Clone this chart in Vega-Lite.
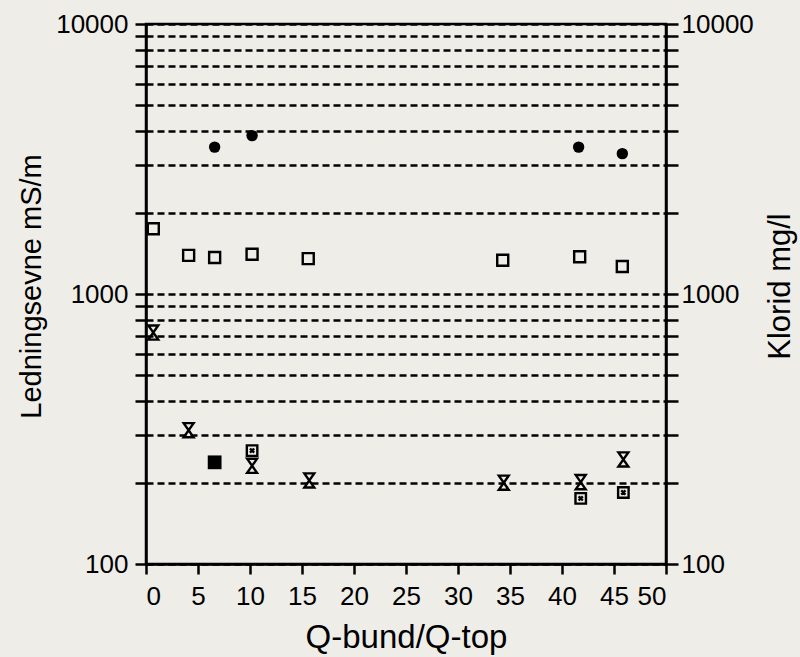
{
  "$schema": "https://vega.github.io/schema/vega-lite/v6.json",
  "width": 520,
  "height": 540,
  "autosize": {"type": "none"},
  "padding": {"left": 146, "top": 24, "right": 134, "bottom": 93},
  "background": "#eeede8",
  "config": {
    "view": {"stroke": "black", "strokeWidth": 2.5},
    "font": "Liberation Sans",
    "axis": {
      "domainColor": "black",
      "domainWidth": 2.5,
      "tickColor": "black",
      "tickWidth": 2.5,
      "labelColor": "black",
      "titleColor": "black",
      "labelFont": "Liberation Sans",
      "titleFont": "Liberation Sans",
      "titleFontWeight": "normal",
      "labelFontSize": 26
    }
  },
  "data": {
    "values": [
      {"x": 6.6, "v": 3500, "serie": "kreds"},
      {"x": 10.2, "v": 3860, "serie": "kreds"},
      {"x": 41.6, "v": 3500, "serie": "kreds"},
      {"x": 45.8, "v": 3310, "serie": "kreds"},
      {"x": 0.7, "v": 1745, "serie": "kvadrat"},
      {"x": 4.1, "v": 1390, "serie": "kvadrat"},
      {"x": 6.6, "v": 1365, "serie": "kvadrat"},
      {"x": 10.2, "v": 1403, "serie": "kvadrat"},
      {"x": 15.6, "v": 1352, "serie": "kvadrat"},
      {"x": 34.3, "v": 1334, "serie": "kvadrat"},
      {"x": 41.7, "v": 1374, "serie": "kvadrat"},
      {"x": 45.8, "v": 1265, "serie": "kvadrat"},
      {"x": 0.7, "v": 720, "serie": "timeglas"},
      {"x": 4.1, "v": 313, "serie": "timeglas"},
      {"x": 10.2, "v": 231, "serie": "timeglas"},
      {"x": 15.7, "v": 204, "serie": "timeglas"},
      {"x": 34.4, "v": 200, "serie": "timeglas"},
      {"x": 41.8, "v": 201, "serie": "timeglas"},
      {"x": 45.9, "v": 244, "serie": "timeglas"},
      {"x": 10.2, "v": 263, "serie": "kryds"},
      {"x": 41.8, "v": 175, "serie": "kryds"},
      {"x": 45.9, "v": 184, "serie": "kryds"},
      {"x": 6.6, "v": 238, "serie": "fyldt"}
    ]
  },
  "encoding": {
    "x": {
      "field": "x",
      "type": "quantitative",
      "scale": {"domain": [0, 50], "nice": false, "zero": false},
      "axis": {
        "values": [0, 5, 10, 15, 20, 25, 30, 35, 40, 45, 50],
        "grid": false,
        "tickSize": 10,
        "labelPadding": 9,
        "title": "Q-bund/Q-top",
        "titleFontSize": 33,
        "titleBaseline": "alphabetic",
        "titleY": 83
      }
    }
  },
  "layer": [
    {
      "transform": [{"filter": "datum.serie == 'kreds'"}],
      "mark": {"type": "point", "shape": "circle", "filled": true, "color": "black", "size": 130, "opacity": 1},
      "encoding": {
        "y": {
          "field": "v",
          "type": "quantitative",
          "scale": {"type": "log", "domain": [100, 10000], "nice": false},
          "axis": {
            "orient": "left",
            "values": [100, 200, 300, 400, 500, 600, 700, 800, 900, 1000, 2000, 3000, 4000, 5000, 6000, 7000, 8000, 9000, 10000],
            "labelExpr": "datum.value == 100 || datum.value == 1000 || datum.value == 10000 ? format(datum.value, 'd') : ''",
            "grid": true,
            "gridColor": "black",
            "gridDash": [7, 4],
            "gridWidth": 2.6,
            "gridOpacity": 1,
            "tickSize": 11,
            "labelPadding": 7,
            "title": "Ledningsevne mS/m",
            "titleFontSize": 29,
            "titleAngle": 270,
            "titleAlign": "center",
            "titleBaseline": "middle",
            "titleX": -115,
            "titleY": 262
          }
        }
      }
    },
    {
      "transform": [{"filter": "datum.serie == 'kvadrat'"}],
      "mark": {"type": "point", "shape": "square", "filled": false, "color": "black", "strokeWidth": 2.4, "size": 121, "opacity": 1},
      "encoding": {
        "y": {
          "field": "v",
          "type": "quantitative",
          "scale": {"type": "log", "domain": [100, 10000], "nice": false},
          "axis": {
            "orient": "right",
            "values": [100, 200, 300, 400, 500, 600, 700, 800, 900, 1000, 2000, 3000, 4000, 5000, 6000, 7000, 8000, 9000, 10000],
            "labelExpr": "datum.value == 100 || datum.value == 1000 || datum.value == 10000 ? format(datum.value, 'd') : ''",
            "grid": false,
            "tickSize": 12,
            "labelPadding": 3,
            "title": "Klorid mg/l",
            "titleFontSize": 31,
            "titleAngle": 270,
            "titleAlign": "center",
            "titleBaseline": "middle",
            "titleX": 114,
            "titleY": 262
          }
        }
      }
    },
    {
      "transform": [{"filter": "datum.serie == 'timeglas'"}],
      "mark": {"type": "point", "shape": "M-0.7,-1L0.7,-1L-0.7,1L0.7,1Z", "filled": false, "color": "black", "strokeWidth": 2.4, "size": 200, "opacity": 1},
      "encoding": {
        "y": {"field": "v", "type": "quantitative", "scale": {"type": "log", "domain": [100, 10000], "nice": false}, "axis": null}
      }
    },
    {
      "transform": [{"filter": "datum.serie == 'kryds'"}],
      "mark": {"type": "point", "shape": "M-1,-1H1V1H-1Z M-0.4,-0.4L0.4,0.4M-0.4,0.4L0.4,-0.4", "filled": false, "color": "black", "strokeWidth": 2.4, "size": 110, "opacity": 1},
      "encoding": {
        "y": {"field": "v", "type": "quantitative", "scale": {"type": "log", "domain": [100, 10000], "nice": false}, "axis": null}
      }
    },
    {
      "transform": [{"filter": "datum.serie == 'fyldt'"}],
      "mark": {"type": "point", "shape": "square", "filled": true, "color": "black", "size": 190, "opacity": 1},
      "encoding": {
        "y": {"field": "v", "type": "quantitative", "scale": {"type": "log", "domain": [100, 10000], "nice": false}, "axis": null}
      }
    }
  ],
  "resolve": {"axis": {"y": "independent"}}
}
